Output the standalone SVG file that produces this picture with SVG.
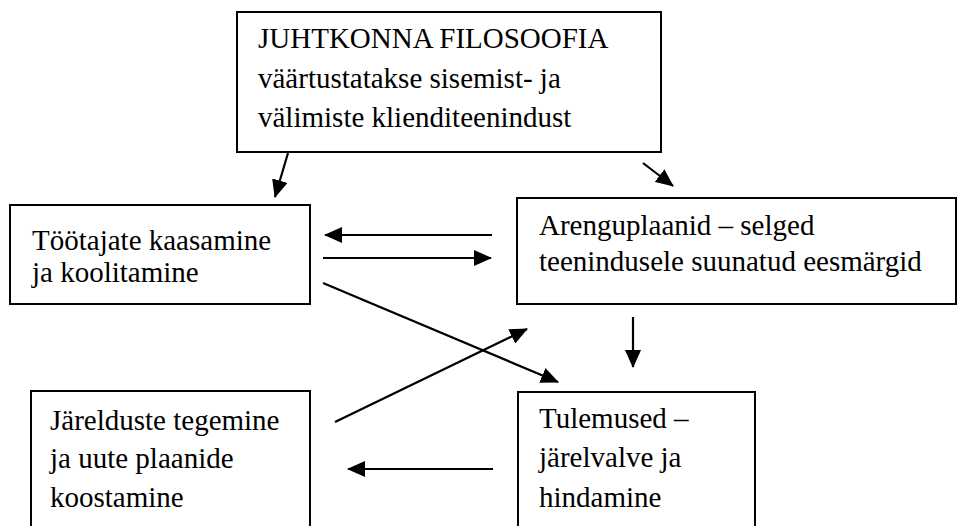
<svg xmlns="http://www.w3.org/2000/svg" width="958" height="526" viewBox="0 0 958 526">
<style>
.box{fill:#fff;stroke:#000;stroke-width:2}
text{font-size:29px;fill:#000}
.c{stroke:#000;stroke-width:2.2;fill:none;marker-end:url(#ah)}
</style>
<defs>
<marker id="ah" markerWidth="18" markerHeight="16" refX="17" refY="8" orient="auto" markerUnits="userSpaceOnUse">
<path d="M0,0 L18,8 L0,16 Z" fill="#000"/>
</marker>
</defs>
<rect width="958" height="526" fill="#fff"/>
<g font-family="Liberation Serif, Times New Roman, serif">
<g id="n-juhtkond">
<rect class="box" x="237" y="12" width="424" height="140"/>
<text x="258" y="48">JUHTKONNA FILOSOOFIA</text>
<text x="258" y="88">väärtustatakse sisemist- ja</text>
<text x="258" y="127">välimiste klienditeenindust</text>
</g>
<g id="n-tootajad">
<rect class="box" x="10" y="205" width="300" height="99"/>
<text x="32" y="250">Töötajate kaasamine</text>
<text x="32" y="282">ja koolitamine</text>
</g>
<g id="n-arengu">
<rect class="box" x="517" y="198" width="439" height="106"/>
<text x="539" y="235">Arenguplaanid – selged</text>
<text x="539" y="271">teenindusele suunatud eesmärgid</text>
</g>
<g id="n-jareldused">
<rect class="box" x="31" y="391" width="279" height="150"/>
<text x="50" y="430">Järelduste tegemine</text>
<text x="50" y="468">ja uute plaanide</text>
<text x="50" y="507">koostamine</text>
</g>
<g id="n-tulemused">
<rect class="box" x="518" y="392" width="237" height="150"/>
<text x="539" y="428">Tulemused –</text>
<text x="539" y="467">järelvalve ja</text>
<text x="539" y="507">hindamine</text>
</g>
</g>
<g id="connectors">
<line class="c" x1="288" y1="153" x2="275" y2="197"/>
<line class="c" x1="643" y1="163" x2="673" y2="186"/>
<line class="c" x1="492" y1="235" x2="325" y2="235"/>
<line class="c" x1="323" y1="258" x2="491" y2="258"/>
<line class="c" x1="323" y1="283" x2="558" y2="382"/>
<line class="c" x1="335" y1="422" x2="527" y2="329"/>
<line class="c" x1="633" y1="317" x2="633" y2="367"/>
<line class="c" x1="493" y1="469" x2="348" y2="469"/>
</g>
</svg>
